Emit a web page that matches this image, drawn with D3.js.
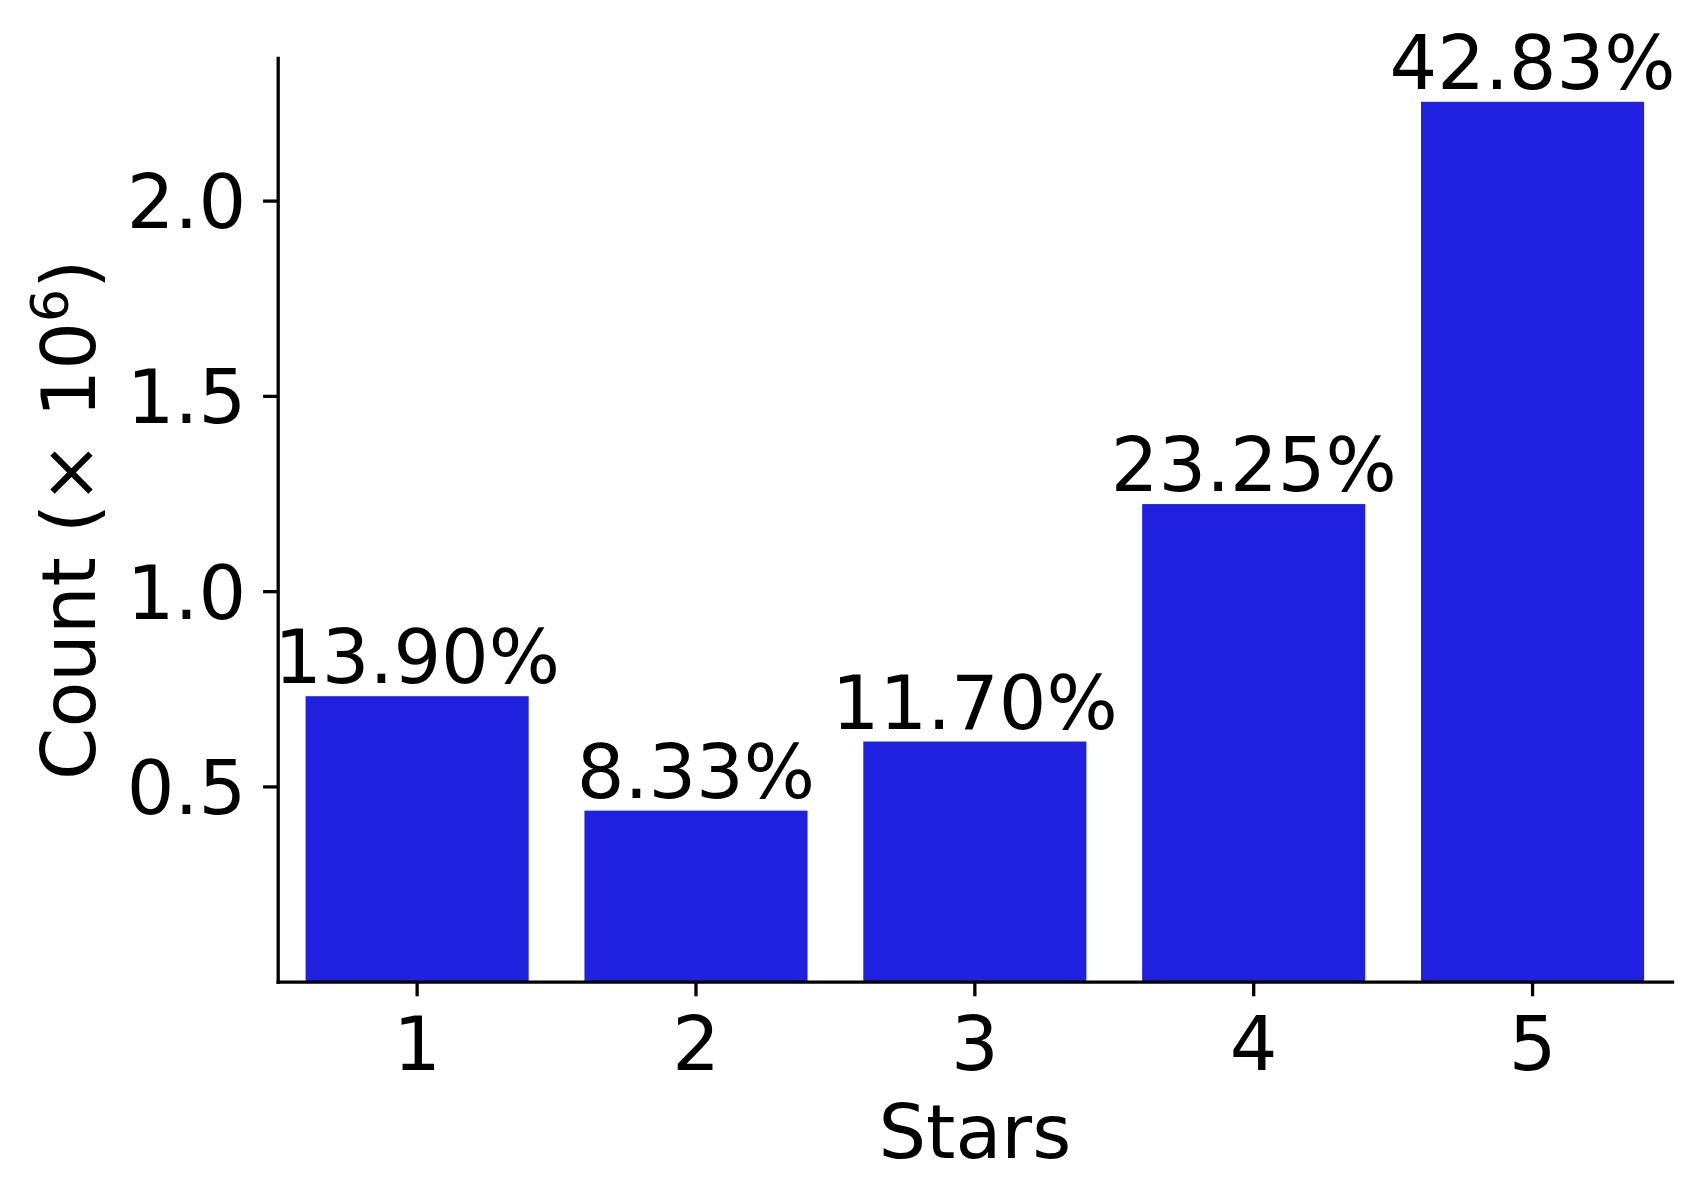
<!DOCTYPE html>
<html>
<head>
<meta charset="utf-8">
<script src="https://cdn.jsdelivr.net/npm/d3@7/dist/d3.min.js"></script>
<style>
    body {
        margin: 0;
        background-color: #ffffff;
    }
    svg text {
        font-family: "DejaVu Sans", sans-serif;
        fill: #000000;
    }
    .axis path,
    .axis line {
        stroke: #000000;
        stroke-width: 3.3px;
    }
    .axis path {
        stroke-linecap: square;
    }
    .axis text {
        font-size: 75px;
    }
</style>
</head>
<body>
<svg width="1705" height="1204"></svg>
<script>
    // data
    var stars = ["1", "2", "3", "4", "5"];
    var counts = [0.731, 0.438, 0.615, 1.223, 2.253];   // millions
    var pctLabels = ["13.90%", "8.33%", "11.70%", "23.25%", "42.83%"];
    var yTicks = [0.5, 1.0, 1.5, 2.0];

    var svg = d3.select("svg"),
        plot = {left: 277.7, right: 1672, top: 57.8, bottom: 981.7};

    var data = stars.map(function (s, i) {
        return {star: s, value: counts[i], label: pctLabels[i]};
    });

    var x = d3.scaleBand()
        .domain(stars)
        .range([plot.left, plot.right])
        .paddingInner(0.2)
        .paddingOuter(0.1);

    // matplotlib style 5% headroom above tallest bar
    var y = d3.scaleLinear()
        .domain([0, d3.max(counts) * 1.05])
        .range([plot.bottom, plot.top]);

    svg.append("rect")
        .attr("width", 1705).attr("height", 1204)
        .attr("fill", "#ffffff");

    svg.selectAll(".bar")
        .data(data)
        .enter().append("rect")
        .attr("class", "bar")
        .attr("x", function (d) { return x(d.star); })
        .attr("width", x.bandwidth())
        .attr("y", function (d) { return y(d.value); })
        .attr("height", function (d) { return y(0) - y(d.value); })
        .attr("fill", "#2020df");

    svg.selectAll(".pct")
        .data(data)
        .enter().append("text")
        .attr("class", "pct")
        .attr("x", function (d) { return x(d.star) + x.bandwidth() / 2; })
        .attr("y", function (d) { return y(d.value) - 13; })
        .attr("text-anchor", "middle")
        .style("font-size", "75px")
        .text(function (d) { return d.label; });

    var yAxis = svg.append("g")
        .attr("class", "axis")
        .attr("transform", "translate(" + plot.left + ",0)")
        .call(d3.axisLeft(y)
            .tickValues(yTicks)
            .tickFormat(d3.format(".1f"))
            .tickSize(14.6)
            .tickSizeOuter(0)
            .tickPadding(17));
    yAxis.selectAll("text").attr("dy", "0.36em");

    svg.append("g")
        .attr("class", "axis")
        .attr("transform", "translate(0," + plot.bottom + ")")
        .call(d3.axisBottom(x)
            .tickSize(14.6)
            .tickSizeOuter(0)
            .tickPadding(20.4));

    svg.selectAll(".axis .domain").attr("fill", "none");

    // axis titles
    svg.append("text")
        .attr("x", (plot.left + plot.right) / 2)
        .attr("y", 1158)
        .attr("text-anchor", "middle")
        .style("font-size", "75px")
        .text("Stars");

    var yl = svg.append("text")
        .attr("transform", "translate(95," + (plot.top + plot.bottom) / 2 + ") rotate(-90)")
        .attr("text-anchor", "middle")
        .style("font-size", "75px");
    yl.append("tspan").text("Count (× 10");
    yl.append("tspan").attr("dy", -27).style("font-size", "52px").text("6");
    yl.append("tspan").attr("dy", 27).text(")");
</script>
</body>
</html>
